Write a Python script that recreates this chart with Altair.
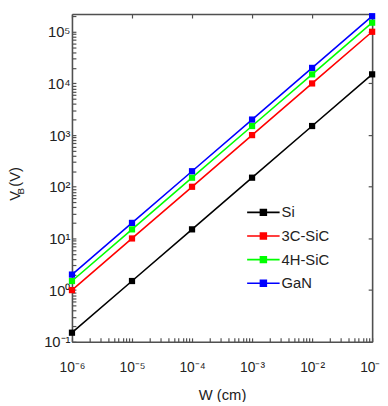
import altair as alt
import pandas as pd

# ---- data ----
W = [1e-6, 1e-5, 1e-4, 1e-3, 1e-2, 1e-1]
Si = [0.15, 1.5, 15, 150, 1500, 15000]
SiC3C = [1, 10, 100, 1000, 10000, 100000]
SiC4H = [1.5, 15, 150, 1500, 15000, 150000]
GaN = [2, 20, 200, 2000, 20000, 200000]
series_names = ["Si", "3C-SiC", "4H-SiC", "GaN"]
series_colors = ["#000000", "#ff0000", "#00ff00", "#0000ff"]
x_exps = [-6, -5, -4, -3, -2, -1]
y_exps = [-1, 0, 1, 2, 3, 4, 5]

rows = []
for name, vals in zip(series_names, [Si, SiC3C, SiC4H, GaN]):
    for w, v in zip(W, vals):
        rows.append({"W": w, "VB": v, "Material": name})
df = pd.DataFrame(rows)

SUP = {"-": "\u207b", "0": "\u2070", "1": "\u00b9", "2": "\u00b2", "3": "\u00b3",
       "4": "\u2074", "5": "\u2075", "6": "\u2076", "7": "\u2077", "8": "\u2078", "9": "\u2079"}


def sup(k):
    return "".join(SUP[c] for c in str(k))


def label_expr(exps):
    expr = "''"
    for k in exps:
        expr = f"abs(log(datum.value)/LN10 - ({k})) < 0.01 ? '10{sup(k)}' : ({expr})"
    return expr


x_ticks = [d * 10.0 ** k for k in range(-6, -1) for d in range(1, 10)] + [1e-1]
y_ticks = [d * 10.0 ** k for k in range(-1, 5) for d in range(1, 10)] + [1e5, 2e5]
x_major = [10.0 ** k for k in x_exps]
y_major = [10.0 ** k for k in y_exps]

FONT = "Liberation Sans"
AX = "#505050"

xscale = alt.Scale(type="log", domain=[1e-6, 1e-1], nice=False)
yscale = alt.Scale(type="log", domain=[0.1, 2.2e5], nice=False)
cscale = alt.Scale(domain=series_names, range=series_colors)

axis_common = dict(grid=False, domainColor=AX, domainWidth=1.6, tickColor=AX,
                   tickWidth=1.2, tickSize={"expr": "-4"},
                   labelFont=FONT, labelColor="#222222",
                   titleFont=FONT, titleFontSize=15, titleFontWeight="normal",
                   titleColor="#222222")
axis_frame = {k: v for k, v in axis_common.items() if not k.startswith("title")}

legend_path = ("M-3.3,0H3.3 M-0.6,-0.6H0.6V0.6H-0.6Z M-0.3,-0.3H0.3V0.3H-0.3Z")

base = alt.Chart(df)

lines = base.mark_line(strokeWidth=1.6).encode(
    x=alt.X("W:Q", scale=xscale,
            axis=alt.Axis(values=x_ticks, labelExpr=label_expr(x_exps),
                          title="W (cm)", labelPadding=23, titlePadding=14,
                          labelFontSize=14,
                          labelFlush=False, labelOverlap=False, **axis_common)),
    y=alt.Y("VB:Q", scale=yscale,
            axis=alt.Axis(values=y_ticks, labelExpr=label_expr(y_exps),
                          title="V   (V)", labelPadding=6, titleX=-50, titleY=172,
                          labelFontSize=15,
                          labelFlush=False, labelOverlap=False, **axis_common)),
    color=alt.Color("Material:N", scale=cscale, sort=series_names,
                    legend=alt.Legend(title=None, orient="none", legendX=176, legendY=194,
                                      symbolType=legend_path, symbolSize=100,
                                      symbolStrokeWidth=1.6, symbolOffset=11,
                                      labelOffset=11, labelFont=FONT, labelFontSize=15,
                                      labelColor="#222222", rowPadding=8)),
)

points = base.mark_point(shape="square", filled=True, size=40, opacity=1).encode(
    x=alt.X("W:Q", scale=xscale),
    y=alt.Y("VB:Q", scale=yscale),
    color=alt.Color("Material:N", scale=cscale, sort=series_names, legend=None),
)

frame = base.mark_point(opacity=0).encode(
    x=alt.X("W:Q", scale=xscale,
            axis=alt.Axis(orient="top", values=x_major, labels=False, title=None,
                          minExtent=0, **axis_frame)),
    y=alt.Y("VB:Q", scale=yscale,
            axis=alt.Axis(orient="right", values=y_major, labels=False, title=None,
                          minExtent=0, **axis_frame)),
)

sub_b = alt.Chart(pd.DataFrame({"t": ["B"]})).mark_text(
    angle=270, font=FONT, fontSize=10, color="#222222", baseline="alphabetic"
).encode(text="t:N", x=alt.value(-49), y=alt.value(180))

main = alt.layer(lines, points, sub_b)
chart = alt.layer(main, frame).resolve_axis(x="independent", y="independent").properties(
    width=305, height=333,
    autosize=alt.AutoSizeParams(type="none"),
    padding={"left": 65, "top": 3, "right": 8, "bottom": 58},
).configure_view(stroke=None).configure(background="white")

chart.save("out.html", embed_options={"renderer": "svg", "actions": False})
